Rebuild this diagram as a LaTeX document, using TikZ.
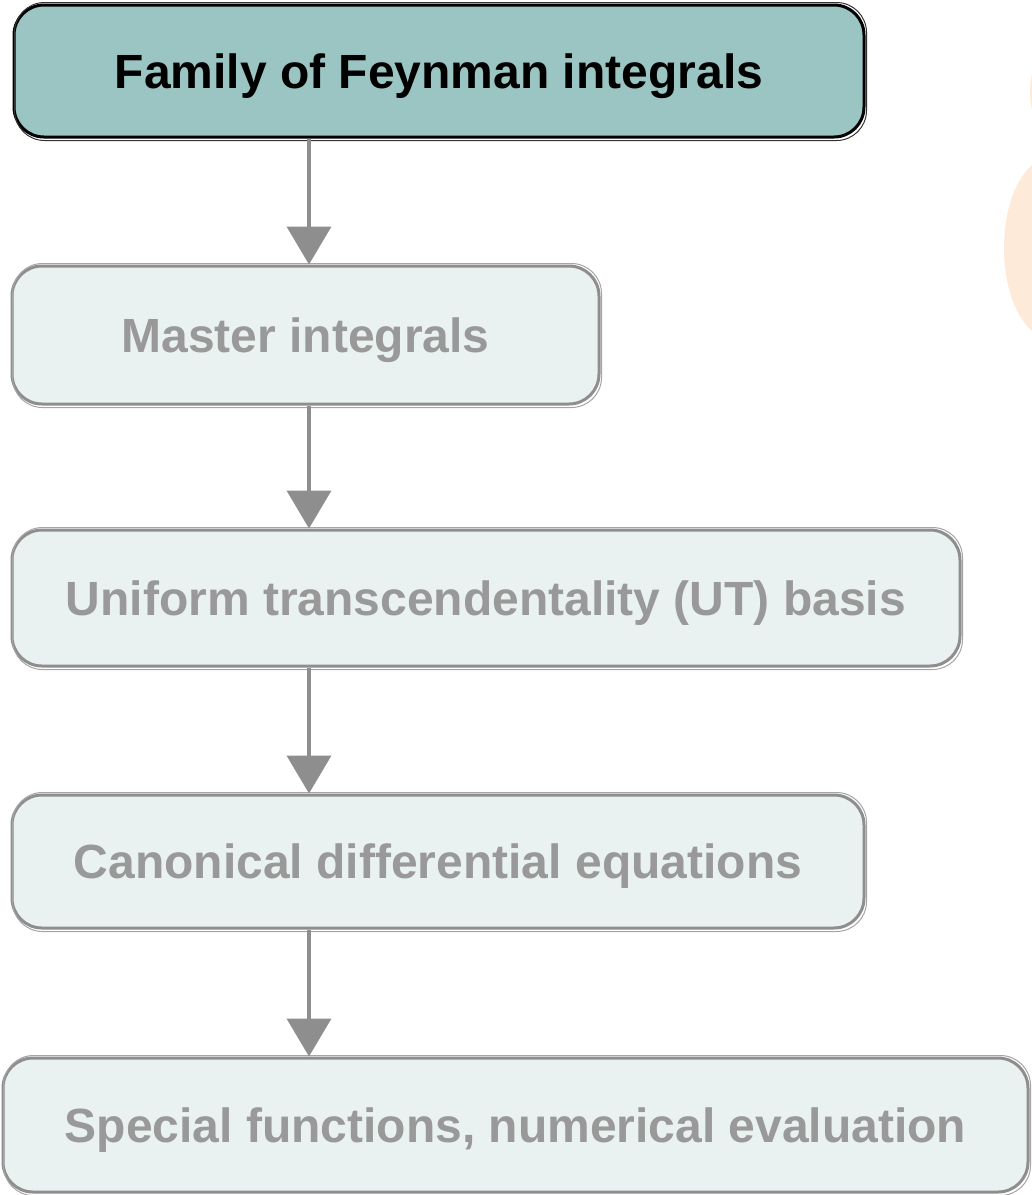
\documentclass[tikz,border=0pt]{standalone}
\usepackage{fontspec}
\setmainfont{Liberation Sans}
\usetikzlibrary{arrows.meta,calc}
\definecolor{teal1}{HTML}{9BC5C2}
\definecolor{pale}{HTML}{EAF2F1}
\definecolor{grayline}{HTML}{8E8E8E}
\definecolor{graytext}{HTML}{999999}
\definecolor{peach}{HTML}{FDEAD9}
\begin{document}
\begin{tikzpicture}[x=1pt,y=1pt,
  boxbase/.style={rectangle, rounded corners=30pt, line width=3pt, inner sep=0pt,
    text height=34pt, text depth=0pt,
    font=\fontsize{48}{56}\selectfont\bfseries},
  topbox/.style={boxbase, draw=black, fill=teal1, text=black},
  stepbox/.style={boxbase, draw=grayline, fill=pale, text=graytext},
  sketchblack/.style={draw=black!80, line width=1pt, rounded corners=30pt},
  sketchgray/.style={draw=grayline!80, line width=1pt, rounded corners=30pt},
  arr/.style={draw=grayline, line width=4pt, -{Triangle[length=38pt,width=44pt]}}
]
\useasboundingbox (0,0) rectangle (1032,-1195);
\fill[peach] (1050,-248) ellipse [x radius=46, y radius=90];
\fill[peach] (1061,-92) ellipse [x radius=31, y radius=50];

\node[topbox, minimum width=850pt, minimum height=132pt] (b1) at (439,-71) {Family of Feynman integrals};
\node[stepbox, minimum width=587pt, minimum height=138pt] (b2) at (305.5,-335) {Master integrals};
\node[stepbox, minimum width=948pt, minimum height=136pt] (b3) at (486,-598) {Uniform transcendentality (UT) basis};
\node[stepbox, minimum width=852pt, minimum height=133pt] (b4) at (438,-861.5) {Canonical differential equations};
\node[stepbox, minimum width=1025pt, minimum height=134pt] (b5) at (515.5,-1125) {Special functions, numerical evaluation};

% hand-drawn double strokes
\draw[sketchblack] ([shift={(2,-2)}]b1.south west) rectangle ([shift={(1,1)}]b1.north east);
\draw[sketchgray] ([shift={(2,-2)}]b2.south west) rectangle ([shift={(1,1)}]b2.north east);
\draw[sketchgray] ([shift={(2,-2)}]b3.south west) rectangle ([shift={(1,1)}]b3.north east);
\draw[sketchgray] ([shift={(2,-2)}]b4.south west) rectangle ([shift={(1,1)}]b4.north east);
\draw[sketchgray] ([shift={(2,-2)}]b5.south west) rectangle ([shift={(1,1)}]b5.north east);

\coordinate (ax) at (309,0);
\draw[arr] (ax |- b1.south) -- (ax |- b2.north);
\draw[arr] (ax |- b2.south) -- (ax |- b3.north);
\draw[arr] (ax |- b3.south) -- (ax |- b4.north);
\draw[arr] (ax |- b4.south) -- (ax |- b5.north);
\end{tikzpicture}
\end{document}
